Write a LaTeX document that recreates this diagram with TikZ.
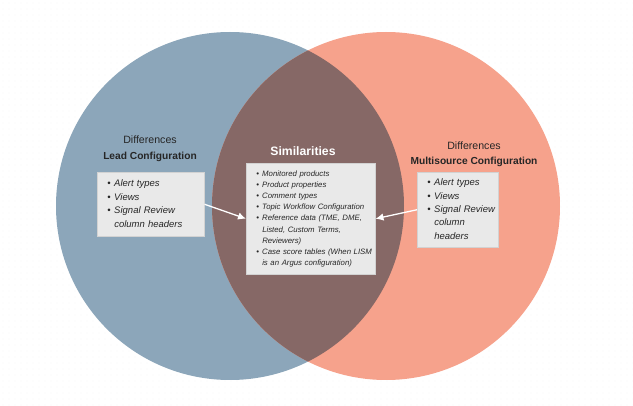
\documentclass[tikz,border=0pt]{standalone}
\usepackage{xcolor}
\usepackage{fontspec}
\setmainfont{Liberation Sans}
\usepackage{tikz}
\usetikzlibrary{positioning, arrows.meta, shadows}

\definecolor{leadblue}{HTML}{8CA6BA}
\definecolor{multisalmon}{HTML}{F6A28C}
\definecolor{sharedbrown}{HTML}{866866}
\definecolor{boxgray}{HTML}{E9E9E9}
\definecolor{boxline}{HTML}{D2D2D2}
\definecolor{inkgray}{HTML}{262626}
\definecolor{dotgray}{HTML}{EDEDED}

\newcommand{\bigbul}{\makebox[7pt][l]{\textbullet}}
\newcommand{\smallbul}{\makebox[6pt][l]{\textbullet}}

\begin{document}
\begin{tikzpicture}[x=1pt,y=-1pt]
						\tikzstyle{infobox}=[draw=boxline,fill=boxgray,line width=0.5pt,inner xsep=10pt,inner ysep=0pt,align=left,text=inkgray,drop shadow={opacity=0.12,shadow xshift=0.6pt,shadow yshift=-0.8pt}]
						\tikzstyle{heading}=[text=inkgray,inner sep=0pt]
						\tikzstyle{arrow}=[white,line width=1.3pt,-{Latex[length=8pt,width=7.5pt,fill=white]}]
						\useasboundingbox (0,0) rectangle (633,406);
						\fill[white] (0,0) rectangle (633,406);
						\foreach \j in {3,9,...,406}
							\fill[dotgray] \foreach \i in {3,9,...,633} {(\i,\j) circle (0.45pt)};
						\fill[leadblue] (230,206) circle (174pt);
						\fill[multisalmon] (386,206) circle (174pt);
						\begin{scope}
							\clip (230,206) circle (174pt);
							\fill[sharedbrown] (386,206) circle (174pt);
						\end{scope}
						\node[heading,font=\fontsize{10.6}{12}\selectfont](leaddiff) at (150,140){Differences};
						\node[heading,font=\bfseries\fontsize{10.2}{12}\selectfont](leadtitle) at (150,157){Lead Configuration};
						\node[heading,text=white,font=\bfseries\fontsize{12.2}{14}\selectfont](simtitle) at (303,151){Similarities};
						\node[heading,font=\fontsize{10.6}{12}\selectfont](multidiff) at (474,146){Differences};
						\node[heading,font=\bfseries\fontsize{10.2}{12}\selectfont](multititle) at (474,162){Multisource Configuration};
						\node[infobox,anchor=north west,minimum width=107pt,minimum height=64pt,text width=87pt,font=\itshape\fontsize{9.5}{13.4}\selectfont](leadbox) at (97,172){%
							\begin{tabular}{@{}l@{}l@{}}
								\bigbul & Alert types\\
								\bigbul & Views\\
								\bigbul & Signal Review\\
								& column headers
							\end{tabular}};
						\node[infobox,anchor=north west,minimum width=129pt,minimum height=111pt,text width=109pt,font=\itshape\fontsize{7.8}{11.2}\selectfont](simbox) at (246,163){%
							\begin{tabular}{@{}l@{}l@{}}
								\smallbul & Monitored products\\
								\smallbul & Product properties\\
								\smallbul & Comment types\\
								\smallbul & Topic Workflow Configuration\\
								\smallbul & Reference data (TME, DME,\\
								& Listed, Custom Terms,\\
								& Reviewers)\\
								\smallbul & Case score tables (When LISM\\
								& is an Argus configuration)
							\end{tabular}};
						\node[infobox,anchor=north west,minimum width=81pt,minimum height=75pt,text width=61pt,font=\itshape\fontsize{9.5}{13.4}\selectfont](multibox) at (417,172){%
							\begin{tabular}{@{}l@{}l@{}}
								\bigbul & Alert types\\
								\bigbul & Views\\
								\bigbul & Signal Review\\
								& column\\
								& headers
							\end{tabular}};
						\path[arrow]
							(leadbox.east) edge node {}(simbox.west)
							(multibox.west) edge node {}(simbox.east);
					\end{tikzpicture}
\end{document}
